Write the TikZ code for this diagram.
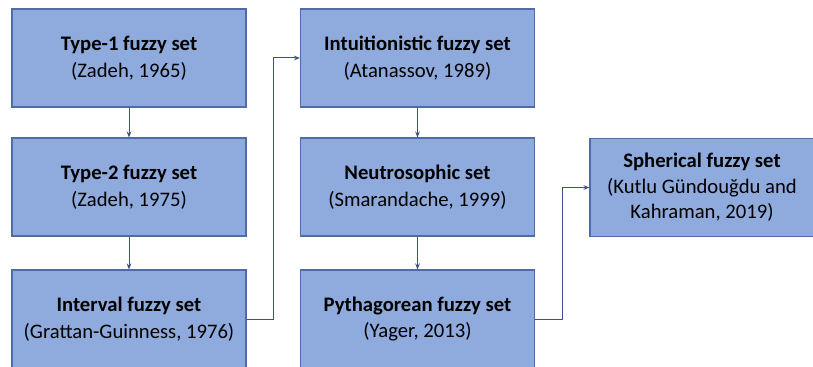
\documentclass[tikz,border=0pt]{standalone}
\usepackage{fontspec}
\setmainfont{Carlito}
\usetikzlibrary{arrows.meta}
\definecolor{boxfill}{HTML}{8FAADC}
\definecolor{boxline}{HTML}{4F6CA6}
\definecolor{conline}{HTML}{3E5283}
\tikzset{
  setbox/.style={draw=boxline, fill=boxfill, line width=0.8pt, minimum width=175.5pt, minimum height=73.5pt, inner sep=2pt, align=center, font=\fontsize{15.5}{20}\selectfont, text=black},
  conn/.style={draw=conline, line width=0.75pt, -{Stealth[length=4.5pt,width=3.5pt]}}
}
\begin{document}
\begin{tikzpicture}[x=0.75pt,y=-0.75pt]
\useasboundingbox (0,0) rectangle (813,367);
\node[setbox] (t1) at (129,58) {\textbf{Type-1 fuzzy set}\\(Zadeh, 1965)};
\node[setbox] (t2) at (129,187) {\textbf{Type-2 fuzzy set}\\(Zadeh, 1975)};
\node[setbox] (iv) at (129,319) {\textbf{Interval fuzzy set}\\(Grattan-Guinness, 1976)};
\node[setbox] (in) at (417.5,58) {\textbf{Intuitionistic fuzzy set}\\(Atanassov, 1989)};
\node[setbox] (ne) at (417.5,187) {\textbf{Neutrosophic set}\\(Smarandache, 1999)};
\node[setbox] (py) at (417.5,319) {\textbf{Pythagorean fuzzy set}\\(Yager, 2013)};
\node[setbox, minimum width=168pt, font=\fontsize{15.5}{19}\selectfont] (sp) at (702,187.5) {\textbf{Spherical fuzzy set}\\(Kutlu Gündouğdu and\\Kahraman, 2019)};
\coordinate (k1) at (273,0);
\coordinate (k2) at (562,0);
\draw[conn] (t1) -- (t2);
\draw[conn] (t2) -- (iv);
\draw[conn] (in) -- (ne);
\draw[conn] (ne) -- (py);
\draw[conn] (iv.east) -- (k1 |- iv.east) -- (k1 |- in.west) -- (in.west);
\draw[conn] (py.east) -- (k2 |- py.east) -- (k2 |- sp.west) -- (sp.west);
\end{tikzpicture}
\end{document}
